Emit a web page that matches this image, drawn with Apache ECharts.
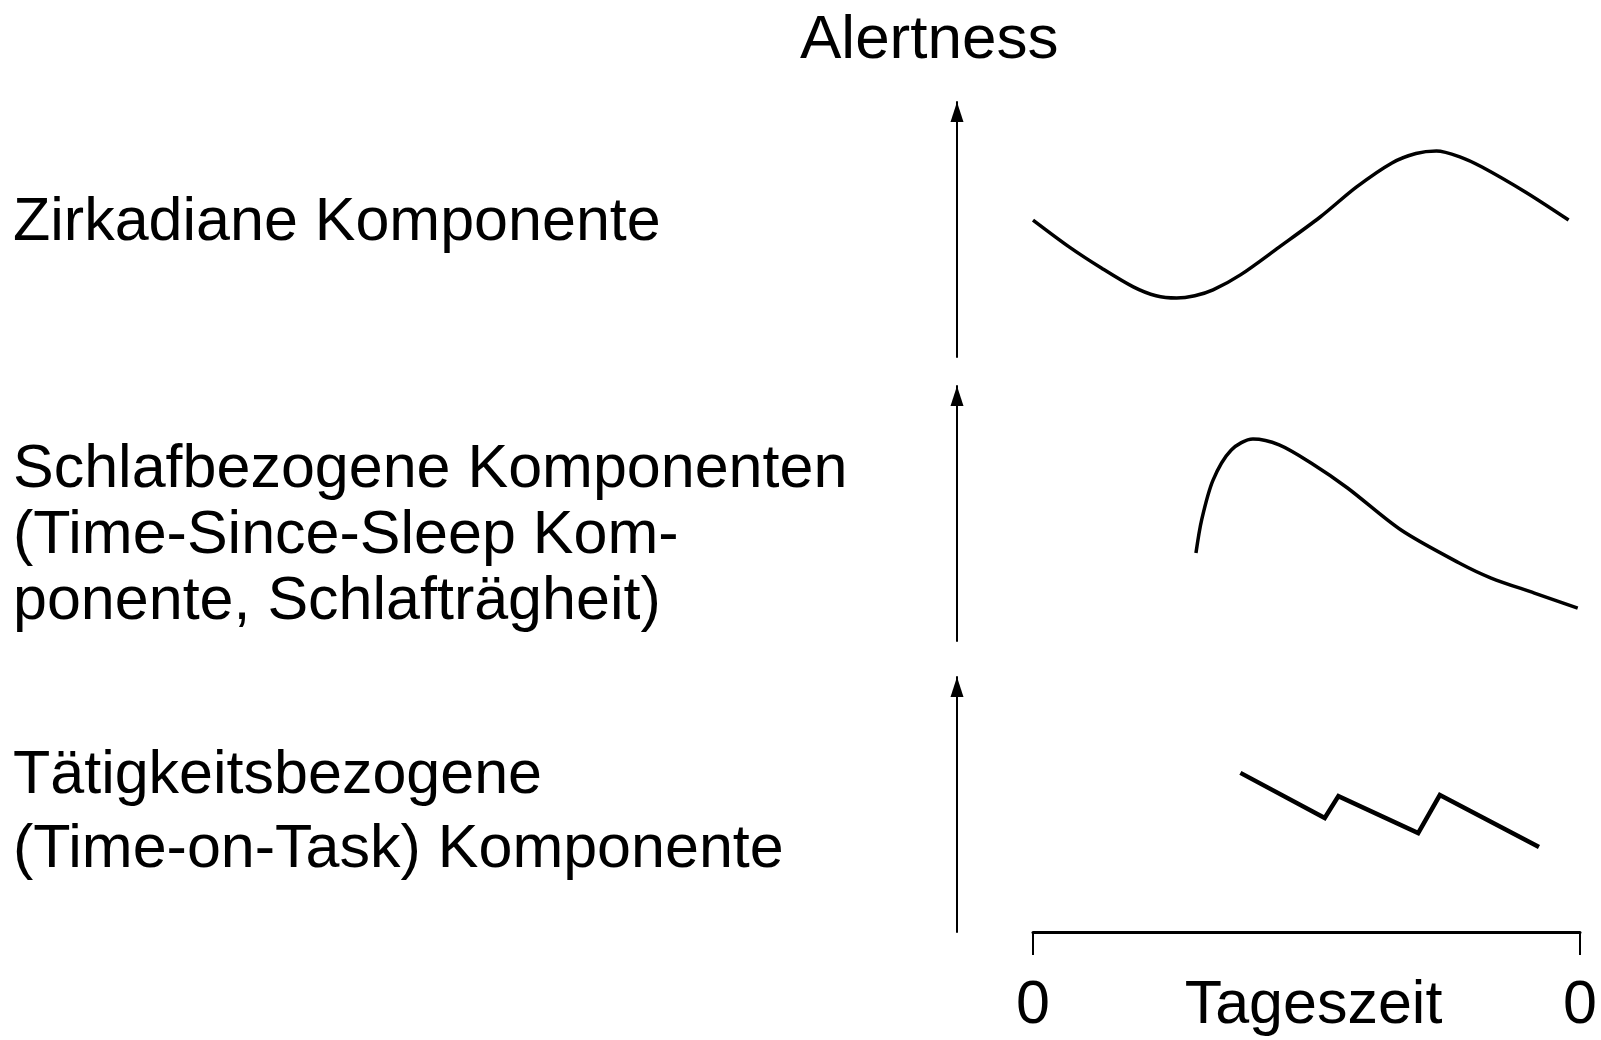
<!DOCTYPE html>
<html>
<head>
<meta charset="utf-8">
<title>Alertness</title>
<script src="https://cdn.jsdelivr.net/npm/echarts@6/dist/echarts.min.js"></script>
<style>
  html, body { margin: 0; padding: 0; background: #fff; }
  #chart { width: 1601px; height: 1040px; }
</style>
</head>
<body>
<div id="chart"></div>
<script>
// data: x = Tageszeit (0..24 h), y = alertness (0..100, arbitrary)
const circadian = [
  [0, 53.7], [1.6, 43.1], [3.0, 34.9], [4.4, 27.5], [5.4, 24.0], [6.3, 23.1], [7.1, 24.0],
  [7.9, 26.3], [9.1, 32.2], [10.8, 43.1], [12.6, 54.9], [14.2, 66.7], [15.75, 76.1],
  [16.8, 79.8], [17.7, 80.8], [18.7, 78.6], [19.7, 74.5], [21.6, 64.7], [23.5, 53.7]
]
const sleepRelated = [
  [7.15, 34.5], [7.4, 47.5], [7.9, 63.1], [8.7, 74.9], [9.65, 79.2], [10.8, 76.9],
  [12.2, 69.8], [13.8, 60.0], [16.15, 43.5], [18.7, 30.6], [20.1, 24.7],
  [22.0, 18.8], [23.9, 12.9]
]
const taskRelated = [
  [9.1, 62.4], [12.8, 44.7], [13.4, 53.3], [16.9, 38.8], [17.85, 53.7], [22.2, 33.3]
]
const xTicks = ['0', '0']
const rowLabels = [
  'Zirkadiane Komponente',
  'Schlafbezogene Komponenten\n(Time-Since-Sleep Kom-\nponente, Schlafträgheit)',
  'Tätigkeitsbezogene\n(Time-on-Task) Komponente'
]

const font = "'Liberation Sans', Arial, Helvetica, sans-serif"
let chartDom = document.getElementById('chart')
let myChart = echarts.init(chartDom)

// three stacked panels
const gridTops = [102, 386, 677]
const grids = gridTops.map(function (t) {
  return { left: 1033, right: 21, top: t, height: 255, outerBoundsMode: 'none', containLabel: false }
})

const xAxes = gridTops.map(function (t, i) {
  const last = i === 2
  return {
    gridIndex: i,
    type: 'value',
    min: 0,
    max: 24,
    interval: 24,
    show: last,
    name: last ? 'Tageszeit' : '',
    nameLocation: 'middle',
    nameGap: 44,
    nameMoveOverlap: false,
    nameTextStyle: { fontFamily: font, fontSize: 61, color: '#000', padding: [0, 0, 0, 14] },
    axisLine: { show: true, onZero: false, lineStyle: { color: '#000', width: 3 } },
    axisTick: { show: true, length: 23, lineStyle: { color: '#000', width: 2 } },
    axisLabel: {
      show: true,
      margin: 44,
      fontFamily: font,
      fontSize: 61,
      color: '#000',
      formatter: function (v) { return v === 0 ? xTicks[0] : xTicks[1] }
    },
    splitLine: { show: false }
  }
})

const yAxes = gridTops.map(function (t, i) {
  return {
    gridIndex: i,
    type: 'value',
    min: 0,
    max: 100,
    offset: 76,
    axisLine: {
      show: true,
      onZero: false,
      symbol: ['none', 'triangle'],
      symbolSize: [13, 20],
      symbolOffset: [0, -10],
      lineStyle: { color: '#000', width: 2 }
    },
    axisTick: { show: false },
    axisLabel: { show: false },
    splitLine: { show: false }
  }
})

let option = {
  backgroundColor: '#fff',
  animation: false,
  title: [
    {
      text: 'Alertness', left: 795, top: 3,
      textStyle: { fontFamily: font, fontSize: 62, fontWeight: 'normal', color: '#000', lineHeight: 66 }
    },
    {
      text: rowLabels[0], left: 8, top: 185,
      textStyle: { fontFamily: font, fontSize: 61, fontWeight: 'normal', color: '#000', lineHeight: 66 }
    },
    {
      text: rowLabels[1], left: 8, top: 432,
      textStyle: { fontFamily: font, fontSize: 61, fontWeight: 'normal', color: '#000', lineHeight: 66 }
    },
    {
      text: rowLabels[2], left: 8, top: 734,
      textStyle: { fontFamily: font, fontSize: 61, fontWeight: 'normal', color: '#000', lineHeight: 74 }
    }
  ],
  grid: grids,
  xAxis: xAxes,
  yAxis: yAxes,
  series: [
    {
      type: 'line', xAxisIndex: 0, yAxisIndex: 0, data: circadian,
      smooth: 0.3, symbol: 'none', lineStyle: { color: '#000', width: 3.5 }
    },
    {
      type: 'line', xAxisIndex: 1, yAxisIndex: 1, data: sleepRelated,
      smooth: 0.3, symbol: 'none', lineStyle: { color: '#000', width: 3.5 }
    },
    {
      type: 'line', xAxisIndex: 2, yAxisIndex: 2, data: taskRelated,
      smooth: false, symbol: 'none', lineStyle: { color: '#000', width: 4.5, join: 'miter' }
    }
  ]
}
myChart.setOption(option)
</script>
</body>
</html>
